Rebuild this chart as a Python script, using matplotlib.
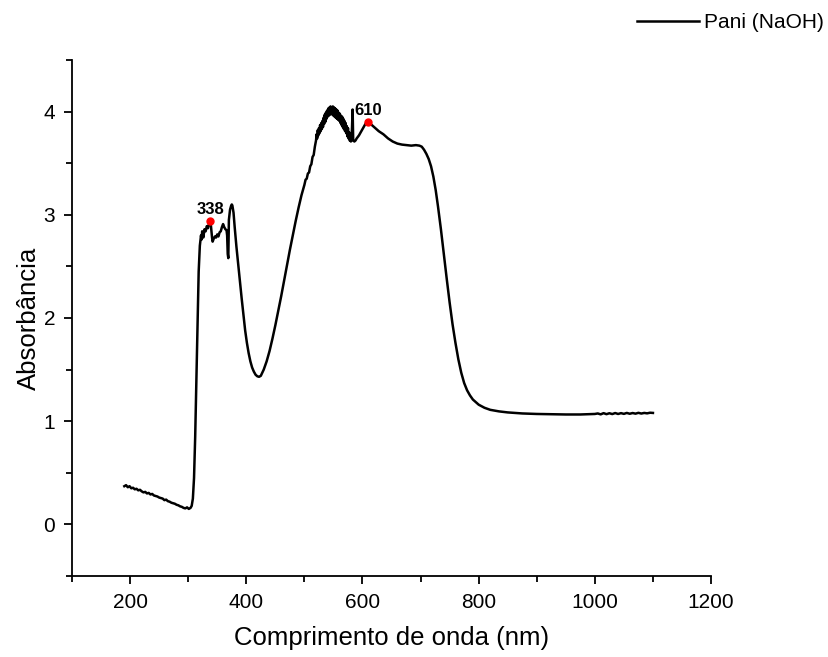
import matplotlib
matplotlib.use('Agg')
import matplotlib.pyplot as plt
import matplotlib as mpl
from matplotlib.ticker import MultipleLocator
import numpy as np

mpl.rcParams['font.family'] = ['Liberation Sans', 'DejaVu Sans']

# UV-Vis spectrum, Pani (NaOH)
# baseline before the absorption edge
wl_uv = [190, 193, 196, 199, 202, 205, 208, 211, 214, 217, 220, 223, 226, 229, 232,
         235, 238, 241, 244, 247, 250, 253, 256, 259, 262, 265, 268, 271, 274, 277,
         280, 283, 286, 289, 292, 295, 298, 301, 304]
ab_uv = [0.37, 0.38, 0.36, 0.37, 0.35, 0.355, 0.34, 0.345, 0.33, 0.335, 0.32, 0.31, 0.315, 0.30, 0.305,
         0.29, 0.295, 0.28, 0.275, 0.27, 0.26, 0.255, 0.25, 0.235, 0.24, 0.225, 0.22, 0.21, 0.205, 0.20,
         0.19, 0.185, 0.175, 0.17, 0.16, 0.155, 0.165, 0.15, 0.16]

# edge and first band (~338 nm)
wl_b1 = [306, 308, 310, 312, 314, 316, 318, 320, 322, 323, 324, 326, 328, 330, 332, 334, 336,
         338, 339, 340, 341, 342, 344, 346, 348, 350, 352, 354, 356, 358, 360, 362, 364, 366,
         367, 368, 369, 370, 372, 374, 375, 376, 378, 380, 383, 386, 389, 392, 395, 398, 401,
         404, 407, 410, 413, 416, 419, 422, 425]
ab_b1 = [0.18, 0.25, 0.45, 0.85, 1.4, 2.0, 2.45, 2.7, 2.80, 2.76, 2.84, 2.78, 2.86, 2.84, 2.89, 2.87, 2.92,
         2.94, 2.90, 2.84, 2.78, 2.74, 2.77, 2.79, 2.78, 2.81, 2.79, 2.83, 2.84, 2.88, 2.91, 2.88, 2.86, 2.85,
         2.80, 2.62, 2.58, 2.95, 3.05, 3.09, 3.10, 3.09, 3.02, 2.88, 2.69, 2.52, 2.36, 2.19, 2.03, 1.88, 1.76,
         1.66, 1.58, 1.52, 1.48, 1.45, 1.435, 1.43, 1.44]

# rise to the broad band
wl_rise = [430, 435, 440, 445, 450, 455, 460, 465, 470, 475, 480, 485, 490, 495, 500,
           502, 504, 506, 508, 510, 512, 514, 516, 518]
ab_rise = [1.50, 1.58, 1.68, 1.80, 1.93, 2.07, 2.21, 2.36, 2.51, 2.66, 2.80, 2.94, 3.07, 3.19, 3.29,
           3.34, 3.35, 3.40, 3.41, 3.47, 3.49, 3.56, 3.58, 3.66]

# noisy top of the band
wl_top = [520, 521, 522, 523, 524, 525, 526, 527, 528, 529, 530, 531, 532, 533, 534, 535, 536, 537,
          538, 539, 540, 541, 542, 543, 544, 545, 546, 547, 548, 549, 550, 551, 552, 553, 554, 555,
          556, 557, 558, 559, 560, 561, 562, 563, 564, 565, 566, 567, 568, 569, 570, 571, 572, 573,
          574, 575, 576, 577, 578, 579, 580, 581, 582, 583, 584]
ab_top = [3.72, 3.78, 3.74, 3.82, 3.77, 3.84, 3.79, 3.87, 3.81, 3.89, 3.83, 3.91, 3.85, 3.94, 3.88, 3.97, 3.90, 3.99,
          3.93, 4.01, 3.95, 4.03, 3.96, 4.04, 3.97, 4.05, 3.98, 4.04, 3.97, 4.05, 3.96, 4.04, 3.95, 4.03, 3.94, 4.02,
          3.93, 4.01, 3.92, 3.99, 3.91, 3.98, 3.89, 3.96, 3.87, 3.95, 3.85, 3.93, 3.83, 3.91, 3.81, 3.89, 3.79, 3.86,
          3.76, 3.84, 3.74, 3.80, 3.72, 3.76, 3.71, 3.72, 3.85, 4.02, 3.72]

# shoulder at 610 nm and the long fall into the NIR
wl_vis = [586, 588, 590, 594, 598, 602, 606, 610, 614, 620, 628, 636, 644, 652, 660, 668, 676, 684,
          692, 698, 702, 706, 710, 714, 718, 722, 726, 730, 735, 740, 745, 750, 755, 760, 765, 770,
          775, 780, 785, 790, 800, 810, 820, 835, 850, 875, 900, 925, 950, 975, 1000]
ab_vis = [3.71, 3.72, 3.74, 3.77, 3.81, 3.85, 3.89, 3.90, 3.88, 3.85, 3.81, 3.78, 3.74, 3.71, 3.69, 3.68, 3.675, 3.67,
          3.675, 3.67, 3.66, 3.63, 3.59, 3.54, 3.47, 3.37, 3.24, 3.08, 2.86, 2.62, 2.38, 2.15, 1.94, 1.76, 1.60, 1.47,
          1.37, 1.30, 1.25, 1.21, 1.16, 1.13, 1.11, 1.095, 1.085, 1.075, 1.07, 1.067, 1.065, 1.065, 1.07]

wl_nir = [1005, 1010, 1015, 1020, 1025, 1030, 1035, 1040, 1045, 1050, 1055, 1060, 1065, 1070,
          1075, 1080, 1085, 1090, 1095, 1100]
ab_nir = [1.075, 1.066, 1.078, 1.068, 1.077, 1.069, 1.079, 1.070, 1.078, 1.071, 1.080, 1.072, 1.079, 1.073,
          1.081, 1.074, 1.080, 1.076, 1.082, 1.08]

peak_wl = [338, 610]
peak_ab = [2.94, 3.90]

wl = np.array(wl_uv + wl_b1 + wl_rise + wl_top + wl_vis + wl_nir)
ab = np.array(ab_uv + ab_b1 + ab_rise + ab_top + ab_vis + ab_nir)

fig = plt.figure(figsize=(8.29, 6.57), dpi=100)
ax = fig.add_axes([0.0869, 0.1233, 0.7708, 0.7854])

ax.plot(wl, ab, color='black', linewidth=1.8, label='Pani (NaOH)')
ax.plot(peak_wl, peak_ab, 'o', color='red', markersize=5, zorder=3)
for x, y in zip(peak_wl, peak_ab):
    ax.annotate(str(x), (x, y), xytext=(0, 3), textcoords='offset points',
                ha='center', va='bottom', fontsize=12, fontweight='bold')

ax.set_xlim(100, 1200)
ax.set_ylim(-0.5, 4.5)
ax.xaxis.set_major_locator(MultipleLocator(200))
ax.xaxis.set_minor_locator(MultipleLocator(100))
ax.yaxis.set_major_locator(MultipleLocator(1))
ax.yaxis.set_minor_locator(MultipleLocator(0.5))

for side in ['top', 'right']:
    ax.spines[side].set_visible(False)
for side in ['left', 'bottom']:
    ax.spines[side].set_linewidth(1.3)
ax.tick_params(which='major', direction='out', length=6, width=1.3, labelsize=15, pad=6)
ax.tick_params(which='minor', direction='out', length=4, width=1.3)

ax.set_xlabel('Comprimento de onda (nm)', fontsize=18.5, labelpad=10)
ax.set_ylabel('Absorbância', fontsize=18.5, labelpad=2)

fig.legend(loc='upper right', bbox_to_anchor=(1.017, 1.009), frameon=False,
           fontsize=15, handlelength=3.0, handletextpad=0.25)

fig.savefig('out.png', dpi=100)
